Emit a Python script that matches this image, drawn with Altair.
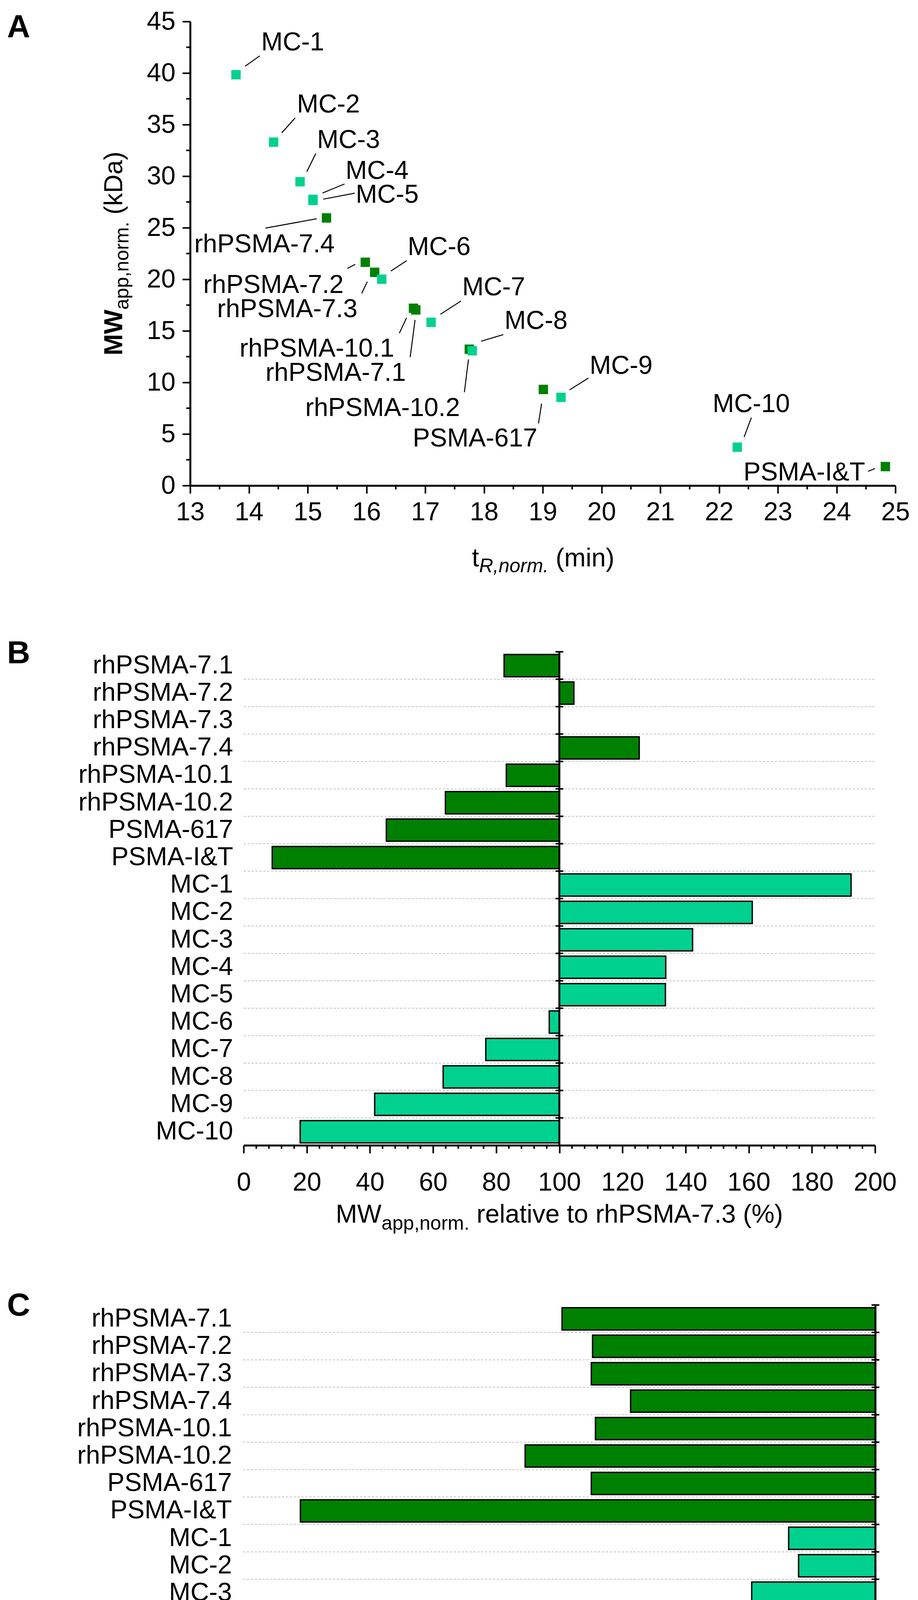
import altair as alt
import pandas as pd

FONT = "Liberation Sans"
LIGHT = "#00D18F"
DARK = "#008000"
GRID = "#c4c4c4"

# ---------------- Panel A data ----------------
compounds_A = ["MC-1", "MC-2", "MC-3", "MC-4", "MC-5", "MC-6", "MC-7", "MC-8", "MC-9", "MC-10",
               "rhPSMA-7.1", "rhPSMA-7.2", "rhPSMA-7.3", "rhPSMA-7.4", "rhPSMA-10.1",
               "rhPSMA-10.2", "PSMA-617", "PSMA-I&T"]
kind_A = ["MC"] * 10 + ["rh"] * 8
tR_norm = [13.78, 14.42, 14.87, 15.09, 15.09, 16.26, 17.10, 17.80, 19.31, 22.31,
           16.84, 15.98, 16.14, 15.32, 16.80, 17.75, 19.01, 24.83]
MW_norm = [39.84, 33.30, 29.46, 27.75, 27.65, 20.01, 15.83, 13.07, 8.55, 3.72,
           17.03, 21.65, 20.68, 25.95, 17.19, 13.22, 9.32, 1.84]

# label anchor (left / baseline) in data units
label_t = [14.209, 14.817, 15.159, 15.645, 15.817, 16.701, 17.629, 18.349, 19.797, 21.890,
           14.282, 13.223, 13.458, 13.070, 13.841, 14.958, 16.787, 22.415]
label_mw = [42.18, 36.17, 32.74, 29.75, 27.43, 22.36, 18.45, 15.19, 10.83, 7.12,
            10.17, 18.67, 16.33, 22.61, 12.50, 6.74, 3.77, 0.51]
# leader lines in data units
lead_t1 = [13.936, 14.558, 14.985, 15.252, 15.264, 16.415, 17.259, 17.950, 19.458, 22.426,
           16.744, 15.676, 15.920, 14.280, 16.560, 17.666, 18.927, 24.539]
lead_m1 = [40.66, 34.20, 30.43, 28.37, 27.77, 20.80, 16.61, 13.99, 9.28, 4.70,
           12.45, 21.06, 18.64, 24.96, 14.77, 9.05, 6.02, 1.38]
lead_t2 = [14.184, 14.787, 15.138, 15.625, 15.801, 16.686, 17.609, 18.329, 19.777, 22.550,
           16.827, 15.809, 16.015, 15.153, 16.682, 17.736, 18.980, 24.653]
lead_m2 = [41.67, 35.65, 32.20, 29.24, 28.35, 21.81, 17.90, 14.64, 10.42, 6.58,
           16.06, 21.44, 19.77, 25.87, 16.26, 12.23, 7.95, 1.65]

xA_ticks = list(range(13, 26))
xA_minor = [13.5 + i for i in range(12)]
yA_ticks = list(range(0, 46, 5))
yA_minor = [2.5 + 5 * i for i in range(9)]

# ---------------- Panels B / C data ----------------
categories = ["rhPSMA-7.1", "rhPSMA-7.2", "rhPSMA-7.3", "rhPSMA-7.4", "rhPSMA-10.1",
              "rhPSMA-10.2", "PSMA-617", "PSMA-I&T", "MC-1", "MC-2", "MC-3", "MC-4",
              "MC-5", "MC-6", "MC-7", "MC-8", "MC-9", "MC-10"]
kind_cat = ["rh"] * 8 + ["MC"] * 10
rel_to_73 = [82.5, 104.6, 100.0, 125.3, 83.2, 63.9, 45.2, 9.05, 192.4, 161.1, 142.2,
             133.7, 133.6, 96.8, 76.7, 63.2, 41.5, 17.9]
rel_to_raw = [-35.67, -32.2, -32.34, -27.87, -31.87, -39.87, -32.34, -65.45, -9.88, -8.75,
              -14.08, -14.35, -20.48, -29.14, -33.94, -33.33, -43.46, -59.26]
REF_B = 100
REF_C = 0
xB_ticks = list(range(0, 201, 20))
xB_minor = [v for v in range(0, 201, 4) if v % 20]
xC_ticks = list(range(-70, 1, 10))
xC_minor = [v for v in range(-72, 1, 2) if v % 10]

# ---------------- layout ----------------
W = 1806
HA = 1188
B_TOP = 17.2
HB = 1280.6
HC = 1264
SP = 408.4
xB_range = [137, 1754]
xC_range = [135, 1755]

AR = {' ': 278, '(': 333, ')': 333, '%': 889, ',': 278, '.': 278, '-': 333, '&': 667,
      'a': 556, 'b': 556, 'c': 500, 'd': 556, 'e': 556, 'f': 278, 'g': 556, 'h': 556,
      'i': 222, 'j': 222, 'k': 500, 'l': 222, 'm': 833, 'n': 556, 'o': 556, 'p': 556,
      'q': 556, 'r': 333, 's': 500, 't': 278, 'u': 556, 'v': 500, 'w': 722, 'x': 500,
      'y': 500, 'z': 500, 'A': 667, 'D': 722, 'M': 833, 'P': 667, 'R': 722, 'S': 667,
      'T': 611, 'W': 944}


def tw(s, fs):
    return sum(AR.get(c, 556) for c in s) / 1000.0 * fs


def txt(s, x, y, fs, angle=0, **kw):
    return alt.Chart(alt.Data(values=[{"s": s}])).mark_text(
        align="left", baseline="alphabetic", fontSize=fs, font=FONT, color="black",
        angle=angle, **kw).encode(x=alt.value(x), y=alt.value(y), text="s:N")


def htitle(pieces, cx, base):
    total = sum(tw(p[0], p[1]) for p in pieces)
    x = cx - total / 2
    out = []
    for s, fs, dy, kw in pieces:
        lead = len(s) - len(s.lstrip(" "))
        x += tw(" " * lead, fs)
        core = s.lstrip(" ")
        out.append(txt(core, x, base + dy, fs, **kw))
        x += tw(core, fs)
    return out


def vtitle(pieces, cy, base):
    total = sum(tw(p[0], p[1]) for p in pieces)
    y = cy + total / 2
    out = []
    for s, fs, dx, kw in pieces:
        lead = len(s) - len(s.lstrip(" "))
        y -= tw(" " * lead, fs)
        core = s.lstrip(" ")
        out.append(txt(core, base + dx, y, fs, angle=270, **kw))
        y -= tw(core, fs)
    return out


color_scale = alt.Scale(domain=["rh", "MC"], range=[DARK, LIGHT])

# ---------------- Panel A ----------------
dfA = pd.DataFrame(dict(name=compounds_A, kind=kind_A, t=tR_norm, mw=MW_norm,
                        lt=label_t, lmw=label_mw, t1=lead_t1, m1=lead_m1,
                        t2=lead_t2, m2=lead_m2))
dfA_draw = pd.concat([dfA[dfA.kind == "rh"], dfA[dfA.kind == "MC"]])

sxA = alt.Scale(domain=[13, 25], nice=False, zero=False)
syA = alt.Scale(domain=[0, 45], nice=False, zero=False)
axA_x = alt.Axis(values=xA_ticks, title=None, tickSize=20, labelPadding=16, format="d",
                 grid=False, labelFlush=False, labelOverlap=False)
axA_y = alt.Axis(values=yA_ticks, title=None, tickSize=20, labelPadding=18, format="d",
                 grid=False, labelFlush=False, labelOverlap=False)

leadA = alt.Chart(dfA).mark_rule(color="black", strokeWidth=2.5).encode(
    x=alt.X("t1:Q", scale=sxA, axis=axA_x), y=alt.Y("m1:Q", scale=syA, axis=axA_y),
    x2="t2:Q", y2="m2:Q")
ptsA = alt.Chart(dfA_draw).mark_square(size=576, opacity=1).encode(
    x=alt.X("t:Q", scale=sxA, axis=axA_x), y=alt.Y("mw:Q", scale=syA, axis=axA_y),
    color=alt.Color("kind:N", scale=color_scale, legend=None))
labA = alt.Chart(dfA).mark_text(align="left", baseline="alphabetic", fontSize=66,
                                font=FONT, color="black").encode(
    x=alt.X("lt:Q", scale=sxA, axis=axA_x), y=alt.Y("lmw:Q", scale=syA, axis=axA_y),
    text="name:N")
minxA = alt.Chart(pd.DataFrame({"m": xA_minor})).mark_rule(color="black", strokeWidth=4).encode(
    x=alt.X("m:Q", scale=sxA, axis=axA_x), y=alt.value(HA), y2=alt.value(HA + 10))
minyA = alt.Chart(pd.DataFrame({"m": yA_minor})).mark_rule(color="black", strokeWidth=4).encode(
    y=alt.Y("m:Q", scale=syA, axis=axA_y), x=alt.value(0), x2=alt.value(-10))

titlesA = htitle([("t", 66, 0, {}), ("R,norm.", 50, 15, {"fontStyle": "italic"}),
                  (" (min)", 66, 0, {})], 904, 1395)
titlesA += vtitle([("MW", 66, 0, {"fontWeight": "bold"}), ("app,norm.", 50, 16, {}),
                   (" (kDa)", 66, 0, {})], 594, -174)
letterA = txt("A", -469, 40, 82, fontWeight="bold")

panelA = alt.layer(leadA, ptsA, labA, minxA, minyA, letterA, *titlesA).properties(
    width=W, height=HA)


# ---------------- Panels B / C ----------------
def bar_panel(values, ref, domain, xrange, ticks, minor, height, top, lab_x, lab_pad,
              title_pieces, title_base, letter, letter_y, tick_half):
    n = len(categories)
    df = pd.DataFrame(dict(name=categories, kind=kind_cat, v=values,
                           base=[ref] * n,
                           y0=[i + 0.1 for i in range(n)],
                           y1=[i + 0.91 for i in range(n)],
                           yc=[i + 0.5 for i in range(n)]))
    sx = alt.Scale(domain=domain, range=xrange, nice=False, zero=False)
    sy = alt.Scale(domain=[0, n], range=[top, height], nice=False, zero=False)
    ax = alt.Axis(values=ticks, title=None, tickSize=20, labelPadding=lab_pad, format="d",
                  grid=False, labelFlush=False, labelOverlap=False)
    grid_df = pd.DataFrame(dict(g=list(range(1, n)), gx0=[domain[0]] * (n - 1),
                                gx1=[domain[1]] * (n - 1)))
    grid = alt.Chart(grid_df).mark_rule(color=GRID, strokeWidth=2, strokeDash=[6, 4]).encode(
        x=alt.X("gx0:Q", scale=sx, axis=ax), x2="gx1:Q", y=alt.Y("g:Q", scale=sy, axis=None))
    bars = alt.Chart(df).mark_rect(stroke="black", strokeWidth=3.5).encode(
        x=alt.X("base:Q", scale=sx, axis=ax), x2="v:Q",
        y=alt.Y("y0:Q", scale=sy, axis=None), y2="y1:Q",
        color=alt.Color("kind:N", scale=color_scale, legend=None))
    line_df = pd.DataFrame(dict(ax=[ref], ya=[0], yb=[n]))
    vline = alt.Chart(line_df).mark_rule(color="black", strokeWidth=5).encode(
        x=alt.X("ax:Q", scale=sx, axis=ax), y=alt.Y("ya:Q", scale=sy, axis=None), y2="yb:Q")
    tk_df = pd.DataFrame(dict(ax=[ref] * (n + 1), g=list(range(n + 1))))
    vticks = alt.Chart(tk_df).mark_rule(color="black", strokeWidth=4, xOffset=-tick_half,
                                        x2Offset=tick_half).encode(
        x=alt.X("ax:Q", scale=sx, axis=ax), x2="ax:Q", y=alt.Y("g:Q", scale=sy, axis=None))
    mins = alt.Chart(pd.DataFrame({"m": minor})).mark_rule(color="black", strokeWidth=4).encode(
        x=alt.X("m:Q", scale=sx, axis=ax), y=alt.value(height), y2=alt.value(height + 9))
    labs = alt.Chart(df).mark_text(align="right", baseline="middle", fontSize=66, font=FONT,
                                   color="black").encode(
        y=alt.Y("yc:Q", scale=sy, axis=None), x=alt.value(lab_x), text="name:N")
    cx = (xrange[0] + xrange[1]) / 2
    titles = htitle(title_pieces, cx, title_base)
    let = txt(letter, -469, letter_y, 82, fontWeight="bold")
    return alt.layer(grid, bars, vline, vticks, mins, labs, let, *titles).properties(
        width=W, height=height)


panelB = bar_panel(rel_to_73, REF_B, [0, 200], xB_range, xB_ticks, xB_minor, HB, B_TOP,
                   110, 43,
                   [("MW", 66, 0, {}), ("app,norm.", 50, 18, {}),
                    (" relative to rhPSMA-7.3 (%)", 66, 0, {})],
                   1478.2, "B", 46.6, 10)
panelC = bar_panel(rel_to_raw, REF_C, [-72, 0], xC_range, xC_ticks, xC_minor, HC, 0,
                   107, 17,
                   [("MW", 66, 0, {}), ("app,norm.", 50, 18, {}),
                    (" relative to MW", 66, 0, {}), ("app,raw", 50, 18, {}),
                    (" (%)", 66, 0, {})],
                   1470.6, "C", 27.6, 10)

chart = alt.vconcat(panelA, panelB, panelC, spacing=SP, bounds="flush").properties(
    padding={"left": 10, "top": 14, "right": 5, "bottom": 5}
).configure(font=FONT).configure_axis(
    domainColor="black", domainWidth=5, tickColor="black", tickWidth=4,
    labelColor="black", labelFont=FONT, labelFontSize=66
).configure_view(strokeWidth=0)

chart.save("out.html", embed_options={"renderer": "svg", "actions": False})
